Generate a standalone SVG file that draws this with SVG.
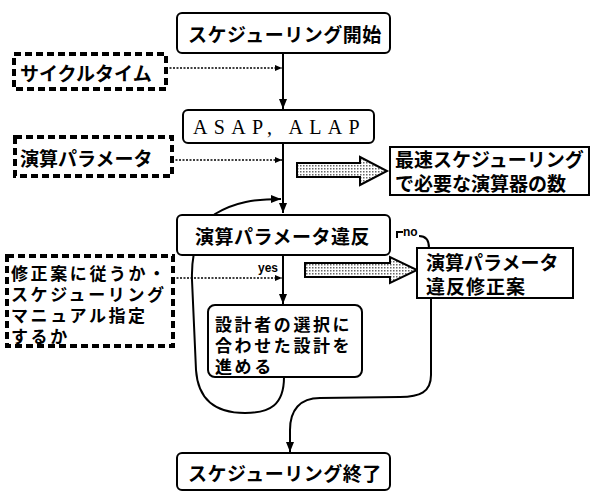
<svg xmlns="http://www.w3.org/2000/svg" width="592" height="492" viewBox="0 0 592 492">
<style>
.box{fill:#fff;stroke:#000;stroke-width:2}
.dash{fill:#fff;stroke:#000;stroke-width:4;stroke-dasharray:7 4}
.t{font-family:"Noto Sans CJK JP","Noto Sans CJK SC",sans-serif;font-weight:700;font-size:19px;fill:#000;dominant-baseline:central}
.s{font-size:17px;letter-spacing:2.6px}
.line{fill:none;stroke:#000;stroke-width:2}
.dot{fill:none;stroke:#000;stroke-width:1.6;stroke-dasharray:2 1.5}
.big{fill:url(#dots);stroke:#000;stroke-width:2}
</style>
<defs>
<marker id="ah" markerUnits="userSpaceOnUse" markerWidth="10" markerHeight="8" refX="10" refY="4" orient="auto">
<path d="M0,0 L10,4 L0,8 z" fill="#000"/>
</marker>
<marker id="ahs" markerUnits="userSpaceOnUse" markerWidth="7" markerHeight="6" refX="7" refY="3" orient="auto">
<path d="M0,0 L7,3 L0,6 z" fill="#000"/>
</marker>
<pattern id="dots" width="3" height="3" patternUnits="userSpaceOnUse">
<rect width="3" height="3" fill="#fff"/>
<rect width="1.5" height="1.5" fill="#666"/>
</pattern>
</defs>

<g id="connectors">
<line class="line" x1="283" y1="53" x2="283" y2="109" marker-end="url(#ah)"/>
<line class="line" x1="283" y1="143" x2="283" y2="213" marker-end="url(#ah)"/>
<line class="line" x1="283" y1="255" x2="283" y2="304" marker-end="url(#ah)"/>
<path class="line" d="M284,377 C284,405 270,413 245,413 C215,413 198,400 196,370 L192,280 C191,250 200,225 215,214 C235,202 255,199 281,199" marker-end="url(#ah)"/>
<path class="line" d="M431,298 L431,375 C431,392 420,397 400,397 L320,398 C300,398 290,410 290,430 L290,452" marker-end="url(#ah)"/>
<line class="dot" x1="166" y1="68" x2="282" y2="68" marker-end="url(#ahs)"/>
<line class="dot" x1="172" y1="160" x2="282" y2="160" marker-end="url(#ahs)"/>
<line class="dot" x1="173" y1="278" x2="282" y2="278" marker-end="url(#ahs)"/>
<polygon class="big" points="297,163 360,163 360,157 387,171 360,185 360,177 297,177"/>
<polygon class="big" points="305,263 390,263 390,257 417,270 390,283 390,277 305,277"/>
<path class="line" d="M397,238 L397,232 L403,232" stroke-width="1.8"/>
<path class="line" d="M419,236 C426,236 429,241 429,248" stroke-width="1.8"/>
<text x="403" y="232" font-family="Liberation Sans,sans-serif" font-weight="700" font-size="12" dominant-baseline="central">no</text>
<text x="258" y="268" font-family="Liberation Sans,sans-serif" font-weight="700" font-size="12" dominant-baseline="central">yes</text>
</g>

<g id="start">
<rect class="box" x="177" y="13" width="213" height="40" rx="5"/>
<text class="t" x="188" y="33" letter-spacing="0.5">スケジューリング開始</text>
</g>
<g id="cycle">
<rect class="dash" x="14" y="54" width="152" height="35"/>
<text class="t" x="20" y="72">サイクルタイム</text>
</g>
<g id="asap">
<rect class="box" x="183" y="110" width="191" height="33" rx="5"/>
<text x="193" y="127" font-family="Liberation Serif,serif" font-size="20" letter-spacing="6.3" dominant-baseline="central">ASAP, ALAP</text>
</g>
<g id="param">
<rect class="dash" x="15" y="137" width="157" height="39"/>
<text class="t" x="20" y="157">演算パラメータ</text>
</g>
<g id="fastest">
<rect class="box" x="390" y="147" width="199" height="48"/>
<text class="t"><tspan x="395" y="158">最速スケジューリング</tspan><tspan x="395" y="182">で必要な演算器の数</tspan></text>
</g>
<g id="violation">
<rect class="box" x="177" y="215" width="213" height="40" rx="5"/>
<text class="t" x="195" y="235" letter-spacing="0.5">演算パラメータ違反</text>
</g>
<g id="fix">
<rect class="box" x="417" y="248" width="156" height="50"/>
<text class="t" font-size="18"><tspan x="426" y="261">演算パラメータ</tspan><tspan x="426" y="285" letter-spacing="1">違反修正案</tspan></text>
</g>
<g id="choice">
<rect class="dash" x="7" y="256" width="166" height="90"/>
<text class="t s"><tspan x="11" y="272">修正案に従うか・</tspan><tspan x="11" y="293">スケジューリング</tspan><tspan x="11" y="314">マニュアル指定</tspan><tspan x="11" y="335">するか</tspan></text>
</g>
<g id="designer">
<rect class="box" x="208" y="305" width="154" height="72" rx="7"/>
<text class="t s"><tspan x="215" y="323">設計者の選択に</tspan><tspan x="215" y="344">合わせた設計を</tspan><tspan x="215" y="365">進める</tspan></text>
</g>
<g id="end">
<rect class="box" x="177" y="453" width="213" height="37" rx="5"/>
<text class="t" x="188" y="472" letter-spacing="0.5">スケジューリング終了</text>
</g>
</svg>
